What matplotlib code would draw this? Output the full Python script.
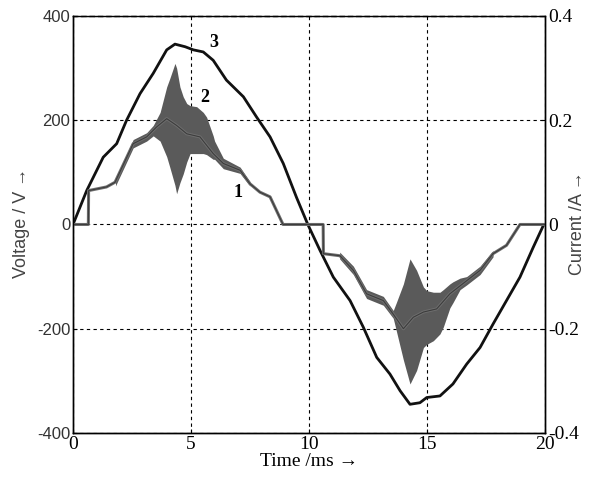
import numpy as np
import matplotlib
matplotlib.use('Agg')
import matplotlib.pyplot as plt

plt.rcParams['font.family'] = ['Liberation Serif', 'DejaVu Serif']

# curve 3: voltage (V)
t_volt = [0, 0.58, 1.28, 1.85, 2.27, 2.84, 3.4, 3.97, 4.32, 4.75, 5.1, 5.52, 5.94, 6.5,
          7.22, 7.78, 8.35, 8.91, 9.47, 9.95, 10.47, 11.03, 11.74, 12.3, 12.87, 13.43,
          13.86, 14.28, 14.7, 14.99, 15.55, 16.1, 16.68, 17.25, 17.8, 18.37, 18.94,
          19.5, 19.95, 20.0]
volt = [0, 65, 129, 155, 200, 251, 290, 335, 346, 341, 335, 331, 315, 277,
        245, 206, 168, 117, 52, 0, -50, -101, -146, -197, -255, -287,
        -319, -345, -342, -332, -329, -306, -268, -236, -191, -146, -101,
        -44, 0, 0]

# curve 1: current (A)
t_curr = [0, 0.65, 0.66, 1.42, 1.78, 2.55, 3.12, 3.54, 3.97, 4.39, 4.82, 5.38, 5.94, 6.37,
          7.08, 7.5, 7.92, 8.35, 8.9, 10.6, 10.61, 11.31, 11.88, 12.44, 13.15, 13.57,
          14.0, 14.42, 14.85, 15.41, 15.97, 16.68, 17.25, 17.8, 18.37, 18.94, 20.0]
curr = [0, 0, 0.065, 0.072, 0.081, 0.155, 0.168, 0.187, 0.203, 0.19, 0.174, 0.168, 0.136, 0.117,
        0.104, 0.078, 0.062, 0.053, 0, 0, -0.056, -0.06, -0.088, -0.133, -0.146, -0.172,
        -0.2, -0.178, -0.168, -0.162, -0.133, -0.108, -0.088, -0.056, -0.04, 0, 0]

# curve 2: oscillation envelope (A)
t_band_pos = [1.8, 2.55, 3.12, 3.4, 3.69, 3.97, 4.1, 4.32, 4.39, 4.53, 4.67, 4.82, 4.96,
              5.24, 5.52, 5.66, 5.94, 6.0, 6.37, 7.08, 7.5]
hi_pos = [0.088, 0.163, 0.176, 0.19, 0.215, 0.264, 0.28, 0.309, 0.3, 0.264, 0.245, 0.232,
          0.228, 0.226, 0.215, 0.206, 0.17, 0.16, 0.127, 0.11, 0.082]
lo_pos = [0.074, 0.147, 0.16, 0.17, 0.16, 0.13, 0.11, 0.075, 0.059, 0.08, 0.097, 0.12,
          0.136, 0.136, 0.136, 0.134, 0.125, 0.125, 0.107, 0.098, 0.074]

t_band_neg = [11.3, 11.88, 12.44, 13.15, 13.57, 13.7, 14.0, 14.28, 14.56, 14.85, 14.99,
              15.27, 15.55, 15.69, 15.97, 16.1, 16.4, 16.68, 17.25, 17.8]
hi_neg = [-0.053, -0.08, -0.125, -0.138, -0.165, -0.15, -0.114, -0.066, -0.088, -0.12,
          -0.127, -0.13, -0.13, -0.125, -0.114, -0.11, -0.103, -0.1, -0.08, -0.05]
lo_neg = [-0.066, -0.096, -0.142, -0.155, -0.18, -0.204, -0.26, -0.306, -0.28, -0.236,
          -0.23, -0.223, -0.21, -0.197, -0.16, -0.15, -0.125, -0.116, -0.096, -0.062]

x_ticks = [0, 5, 10, 15, 20]
v_ticks = [-400, -200, 0, 200, 400]
a_ticks = [-0.4, -0.2, 0, 0.2, 0.4]
a_ticklabels = ['-0.4', '-0.2', '0', '0.2', '0.4']

serif = ['Liberation Serif', 'DejaVu Serif']
sans = ['Liberation Sans', 'DejaVu Sans']

fig = plt.figure(figsize=(6, 4.8), dpi=100)
ax = fig.add_axes([0.1217, 0.098, 0.7866, 0.8687])
ax2 = ax.twinx()

ax.plot(t_volt, volt, color='#111111', lw=2.0, zorder=3)

ax2.fill_between(t_band_pos, lo_pos, hi_pos, color='#5a5a5a', lw=0)
ax2.fill_between(t_band_neg, lo_neg, hi_neg, color='#5a5a5a', lw=0)
ax2.plot(t_curr, curr, color='#6e6e6e', lw=2.2)
ax2.plot(t_curr, curr, color='#3c3c3c', lw=0.8)

ax.set_xlim(0, 20)
ax.set_ylim(-400, 400)
ax2.set_ylim(-0.4, 0.4)

ax.grid(True, color='black', linestyle=(0, (3, 3)), lw=0.8)
ax.spines['top'].set_linestyle((0, (3, 3)))
for a in (ax, ax2):
    a.tick_params(direction='in', length=3, pad=2, labelsize=13)
    for s in a.spines.values():
        s.set_linewidth(1.0)

ax.set_xticks(x_ticks)
ax.set_xticklabels([str(x) for x in x_ticks])
ax.set_yticks(v_ticks)
ax.set_yticklabels([str(v) for v in v_ticks])
ax2.set_yticks(a_ticks)
ax2.set_yticklabels(a_ticklabels)
for lab in ax.get_xticklabels() + ax2.get_yticklabels():
    lab.set_fontfamily(serif)
    lab.set_fontsize(14)
for lab in ax.get_yticklabels():
    lab.set_fontfamily(sans)
    lab.set_fontsize(12)
    lab.set_color('#333333')

ax.set_xlabel('Time /ms \u2192', fontsize=14, labelpad=0)
fig.text(0.035, 0.535, 'Voltage / V \u2192', family=sans, fontsize=13, color='#444444',
         rotation=90, ha='center', va='center')
fig.text(0.963, 0.535, 'Current /A \u2192', family=sans, fontsize=13, color='#444444',
         rotation=90, ha='center', va='center')

ax2.text(6.99, 0.0615, '1', fontsize=13, fontweight='bold', ha='center', va='center')
ax2.text(5.59, 0.244, '2', fontsize=13, fontweight='bold', ha='center', va='center')
ax2.text(5.97, 0.35, '3', fontsize=13, fontweight='bold', ha='center', va='center')

fig.savefig('out.png', dpi=100)
